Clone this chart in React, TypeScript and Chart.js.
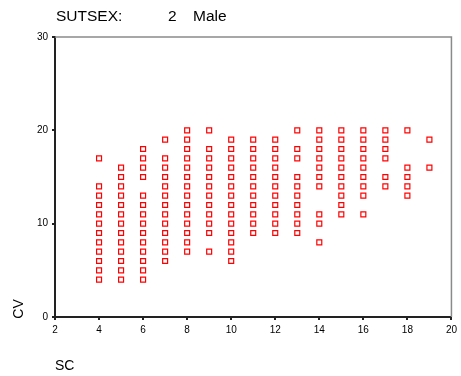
import React, { useEffect, useRef } from "react";
import { Chart, registerables } from "chart.js";

Chart.register(...registerables);

const titleLabel = "SUTSEX:";
const titleValue = "2";
const titleGroup = "Male";
const xAxisLabel = "SC";
const yAxisLabel = "CV";

const xTicks = [2, 4, 6, 8, 10, 12, 14, 16, 18, 20];
const yTicks = [0, 10, 20, 30];

const scValues = [4, 5, 6, 7, 8, 9, 10, 11, 12, 13, 14, 15, 16, 17, 18, 19];
const cv4 = [17, 14, 13, 12, 11, 10, 9, 8, 7, 6, 5, 4];
const cv5 = [16, 15, 14, 13, 12, 11, 10, 9, 8, 7, 6, 5, 4];
const cv6 = [18, 17, 16, 15, 13, 12, 11, 10, 9, 8, 7, 6, 5, 4];
const cv7 = [19, 17, 16, 15, 14, 13, 12, 11, 10, 9, 8, 7, 6];
const cv8 = [20, 19, 18, 17, 16, 15, 14, 13, 12, 11, 10, 9, 8, 7];
const cv9 = [20, 18, 17, 16, 15, 14, 13, 12, 11, 10, 9, 7];
const cv10 = [19, 18, 17, 16, 15, 14, 13, 12, 11, 10, 9, 8, 7, 6];
const cv11 = [19, 18, 17, 16, 15, 14, 13, 12, 11, 10, 9];
const cv12 = [19, 18, 17, 16, 15, 14, 13, 12, 11, 10, 9];
const cv13 = [20, 18, 17, 15, 14, 13, 12, 11, 10, 9];
const cv14 = [20, 19, 18, 17, 16, 15, 14, 11, 10, 8];
const cv15 = [20, 19, 18, 17, 16, 15, 14, 13, 12, 11];
const cv16 = [20, 19, 18, 17, 16, 15, 14, 13, 11];
const cv17 = [20, 19, 18, 17, 15, 14];
const cv18 = [20, 16, 15, 14, 13];
const cv19 = [19, 16];
const cvBySc = [cv4, cv5, cv6, cv7, cv8, cv9, cv10, cv11, cv12, cv13, cv14, cv15, cv16, cv17, cv18, cv19];

const FONT = "'Liberation Sans', Arial, sans-serif";

export default function App() {
  const ref = useRef<HTMLCanvasElement>(null);

  useEffect(() => {
    if (!ref.current) return;
    const points: { x: number; y: number }[] = [];
    scValues.forEach((sc, i) => cvBySc[i].forEach((cv) => points.push({ x: sc, y: cv })));

    const decor = {
      id: "decor",
      afterDraw(chart: any) {
        const { ctx, chartArea } = chart;
        ctx.save();
        // top and right frame lines
        ctx.strokeStyle = "#8a8a8a";
        ctx.lineWidth = 1.5;
        ctx.beginPath();
        ctx.moveTo(chartArea.left, chartArea.top);
        ctx.lineTo(chartArea.right, chartArea.top);
        ctx.lineTo(chartArea.right, chartArea.bottom);
        ctx.stroke();
        // title
        ctx.fillStyle = "#000";
        ctx.font = `15.5px ${FONT}`;
        ctx.textBaseline = "alphabetic";
        ctx.textAlign = "left";
        ctx.fillText(titleLabel, 56, 21);
        ctx.fillText(titleValue, 168, 21);
        ctx.fillText(titleGroup, 193, 21);
        // axis titles
        ctx.font = `14px ${FONT}`;
        ctx.fillText(xAxisLabel, 55, 370);
        ctx.translate(23, 309);
        ctx.rotate(-Math.PI / 2);
        ctx.textAlign = "center";
        ctx.fillText(yAxisLabel, 0, 0);
        ctx.restore();
      },
    };

    const chart = new Chart(ref.current, {
      type: "scatter",
      data: {
        datasets: [
          {
            data: points,
            pointStyle: "rect",
            pointRadius: 3.5,
            pointHoverRadius: 3.5,
            borderWidth: 1.2,
            borderColor: "#ff0000",
            backgroundColor: "#ffffff",
          },
        ],
      },
      options: {
        animation: false,
        responsive: false,
        events: [],
        layout: { padding: { top: 37, right: 9, left: 0, bottom: 0 } },
        plugins: { legend: { display: false }, tooltip: { enabled: false }, title: { display: false } },
        scales: {
          x: {
            type: "linear",
            min: 2,
            max: 20,
            afterBuildTicks: (s: any) => {
              s.ticks = xTicks.map((v) => ({ value: v }));
            },
            afterFit: (s: any) => {
              s.height = 59;
            },
            ticks: { color: "#000", font: { family: FONT, size: 10 }, padding: 4, maxRotation: 0, autoSkip: false },
            grid: { drawOnChartArea: false, drawTicks: true, tickLength: 3, color: "#222", lineWidth: 2 },
            border: { color: "#222", width: 2 },
          },
          y: {
            type: "linear",
            min: 0,
            max: 30,
            afterBuildTicks: (s: any) => {
              s.ticks = yTicks.map((v) => ({ value: v }));
            },
            afterFit: (s: any) => {
              s.width = 55;
            },
            ticks: { color: "#000", font: { family: FONT, size: 10 }, padding: 4 },
            grid: { drawOnChartArea: false, drawTicks: true, tickLength: 3, color: "#222", lineWidth: 2 },
            border: { color: "#222", width: 2 },
          },
        },
      },
      plugins: [decor],
    });
    return () => chart.destroy();
  }, []);

  return (
    <div style={{ position: "absolute", left: 0, top: 0, width: 461, height: 376, background: "#fff" }}>
      <canvas ref={ref} width={461} height={376} style={{ display: "block" }} />
    </div>
  );
}
